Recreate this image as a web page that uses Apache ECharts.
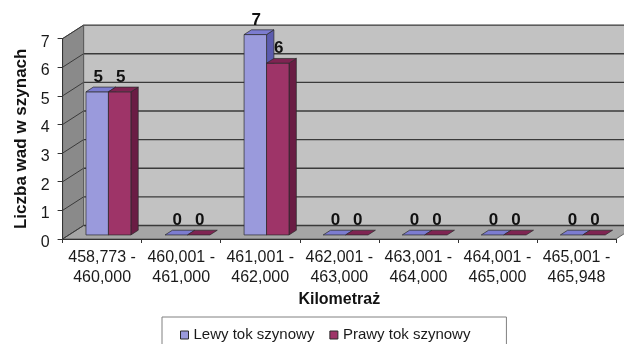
<!DOCTYPE html>
<html>
<head>
<meta charset="utf-8">
<script src="https://cdn.jsdelivr.net/npm/echarts@6/dist/echarts.min.js"></script>
<style>
  html, body { margin: 0; padding: 0; background: #ffffff; }
  #chart { width: 624px; height: 344px; }
</style>
</head>
<body>
<div id="chart"></div>
<script>
// Kilometre ranges along the line
const categories = [
  '458,773 -\n460,000',
  '460,001 -\n461,000',
  '461,001 -\n462,000',
  '462,001 -\n463,000',
  '463,001 -\n464,000',
  '464,001 -\n465,000',
  '465,001 -\n465,948'
];
// Number of rail defects per range
const lewyTok = [5, 0, 7, 0, 0, 0, 0];
const prawyTok = [5, 0, 6, 0, 0, 0, 0];
const yTicks = [0, 1, 2, 3, 4, 5, 6, 7];
const seriesNames = ['Lewy tok szynowy', 'Prawy tok szynowy'];

const FONT = '"Liberation Sans", Arial, Helvetica, sans-serif';

// Oblique 3D box: screen offset of the back plane relative to the front plane
const DEPTH = [21, -13.5];
const BAR_FRONT = 0.3;   // depth at which the bar front faces sit
const BAR_DEPTH = 0.35;  // bar thickness in depth
const BAR_W = 0.284;     // bar width as part of the category band

const blueFaces = { front: '#9a9adc', top: '#7c7cd0', side: '#5c5cae' };
const redFaces  = { front: '#9e3468', top: '#7f2452', side: '#6a1c44' };

function barRenderer(slot, faces) {
  return function (params, api) {
    const i = api.value(0);
    const v = api.value(1);
    const band = api.size([1, 0])[0];
    const base = api.coord([i, 0]);
    const top = api.coord([i, v]);
    const w = band * BAR_W;
    const ox = DEPTH[0] * BAR_FRONT, oy = DEPTH[1] * BAR_FRONT;
    const dx = DEPTH[0] * BAR_DEPTH, dy = DEPTH[1] * BAR_DEPTH;
    const x0 = base[0] + ox + (slot === 0 ? -w : 0);
    const x1 = x0 + w;
    const yb = base[1] + oy;
    const yt = top[1] + oy;
    const edge = { stroke: '#2b2b2b', lineWidth: 0.7 };
    const children = [];
    if (v > 0) {
      children.push({
        type: 'polygon',
        shape: { points: [[x1, yb], [x1, yt], [x1 + dx, yt + dy], [x1 + dx, yb + dy]] },
        style: Object.assign({ fill: faces.side }, edge)
      });
      children.push({
        type: 'rect',
        shape: { x: x0, y: yt, width: w, height: yb - yt },
        style: Object.assign({ fill: faces.front }, edge)
      });
    }
    children.push({
      type: 'polygon',
      shape: { points: [[x0, yt], [x1, yt], [x1 + dx, yt + dy], [x0 + dx, yt + dy]] },
      style: Object.assign({ fill: faces.top }, edge)
    });
    children.push({
      type: 'text',
      z2: 50,
      style: {
        text: String(v),
        x: (x0 + x1) / 2 + 1,
        y: yt + dy - 10,
        align: 'center',
        verticalAlign: 'middle',
        fill: '#111111',
        font: 'bold 17px ' + FONT
      }
    });
    return { type: 'group', children: children };
  };
}

function wallsRenderer(params, api) {
  const band = api.size([1, 0])[0];
  const first = api.coord([0, 0]);
  const last = api.coord([categories.length - 1, 0]);
  const yTop = api.coord([0, yTicks[yTicks.length - 1]])[1];
  const xl = first[0] - band / 2;
  const xr = last[0] + band / 2;
  const y0 = first[1];
  const [Dx, Dy] = DEPTH;
  const line = { stroke: '#3a3a3a', lineWidth: 1.4 };
  const children = [
    { type: 'polygon', shape: { points: [[xl + Dx, yTop + Dy], [xr + Dx, yTop + Dy], [xr + Dx, y0 + Dy], [xl + Dx, y0 + Dy]] },
      style: { fill: '#c2c2c2' } },
    { type: 'polygon', shape: { points: [[xl, y0], [xl, yTop], [xl + Dx, yTop + Dy], [xl + Dx, y0 + Dy]] },
      style: { fill: '#8a8a8a', stroke: '#4a4a4a', lineWidth: 0.8 } },
    { type: 'polygon', shape: { points: [[xl, y0], [xr, y0], [xr + Dx, y0 + Dy], [xl + Dx, y0 + Dy]] },
      style: { fill: '#a6a6a6', stroke: '#4a4a4a', lineWidth: 0.8 } }
  ];
  yTicks.forEach(function (t) {
    const y = api.coord([0, t])[1];
    children.push({ type: 'line', shape: { x1: xl + Dx, y1: y + Dy, x2: xr + Dx, y2: y + Dy }, style: line });
    children.push({ type: 'line', shape: { x1: xl, y1: y, x2: xl + Dx, y2: y + Dy }, style: { stroke: '#3a3a3a', lineWidth: 1 } });
  });
  children.push({ type: 'line', shape: { x1: xl + Dx, y1: yTop + Dy, x2: xl + Dx, y2: y0 + Dy }, style: { stroke: '#5a5a5a', lineWidth: 0.8 } });
  return { type: 'group', children: children };
}

const chart = echarts.init(document.getElementById('chart'), null, { renderer: 'canvas' });

chart.setOption({
  animation: false,
  backgroundColor: '#ffffff',
  textStyle: { fontFamily: FONT },
  grid: { left: 62.6, right: 8, top: 38.6, bottom: 105, containLabel: false },
  legend: {
    data: seriesNames,
    left: 162,
    top: 317,
    orient: 'horizontal',
    itemWidth: 8,
    itemHeight: 8,
    itemGap: 15,
    icon: 'rect',
    padding: [10, 36, 20, 18],
    borderColor: '#808080',
    borderWidth: 1,
    borderRadius: 0,
    itemStyle: { borderColor: '#2b2b2b', borderWidth: 1 },
    textStyle: { fontSize: 15, color: '#1a1a1a', fontFamily: FONT, lineHeight: 16 }
  },
  xAxis: {
    type: 'category',
    data: categories,
    boundaryGap: true,
    name: 'Kilometraż',
    nameLocation: 'middle',
    nameGap: 52,
    nameTextStyle: { fontSize: 16, fontWeight: 'bold', color: '#111', fontFamily: FONT },
    axisLine: { show: true, lineStyle: { color: '#333333', width: 1 } },
    axisTick: { show: true, length: 4, lineStyle: { color: '#333333' } },
    axisLabel: { fontSize: 16, lineHeight: 19.5, color: '#1a1a1a', margin: 9, interval: 0, fontFamily: FONT },
    splitLine: { show: false }
  },
  yAxis: {
    type: 'value',
    min: 0,
    max: 7,
    interval: 1,
    name: 'Liczba wad w szynach',
    nameLocation: 'middle',
    nameRotate: 90,
    nameGap: 27,
    nameTextStyle: { fontSize: 17, fontWeight: 'bold', color: '#111', fontFamily: FONT },
    axisLine: { show: true, lineStyle: { color: '#333333', width: 1 } },
    axisTick: { show: true, length: 5, lineStyle: { color: '#333333' } },
    axisLabel: {
      fontSize: 16, color: '#1a1a1a', margin: 13, fontFamily: FONT,
      formatter: '{v|{value}}',
      rich: { v: { fontSize: 16, fontFamily: FONT, color: '#1a1a1a', padding: [7, 0, 0, 0] } }
    },
    splitLine: { show: false }
  },
  series: [
    {
      name: 'walls',
      type: 'custom',
      silent: true,
      clip: false,
      z: 0,
      data: [[0, 0]],
      renderItem: wallsRenderer
    },
    {
      name: seriesNames[0],
      type: 'custom',
      clip: false,
      z: 2,
      itemStyle: { color: blueFaces.front },
      data: lewyTok.map(function (v, i) { return [i, v]; }),
      renderItem: barRenderer(0, blueFaces)
    },
    {
      name: seriesNames[1],
      type: 'custom',
      clip: false,
      z: 3,
      itemStyle: { color: redFaces.front },
      data: prawyTok.map(function (v, i) { return [i, v]; }),
      renderItem: barRenderer(1, redFaces)
    }
  ]
});
</script>
</body>
</html>
